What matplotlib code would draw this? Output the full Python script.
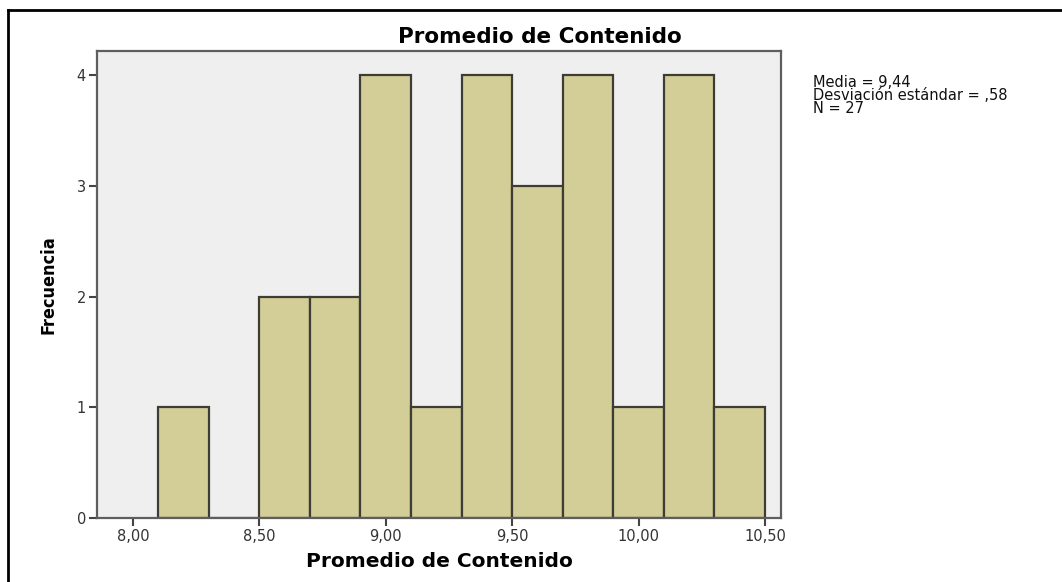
import numpy as np
import matplotlib
matplotlib.use("Agg")
import matplotlib.pyplot as plt
from matplotlib.lines import Line2D

# histogram data (bins of width 0,20)
bin_left = [8.1, 8.3, 8.5, 8.7, 8.9, 9.1, 9.3, 9.5, 9.7, 9.9, 10.1, 10.3]
counts = [1, 0, 2, 2, 4, 1, 4, 3, 4, 1, 4, 1]
bin_width = 0.2

x_ticks = [8.0, 8.5, 9.0, 9.5, 10.0, 10.5]
x_tick_labels = ["8,00", "8,50", "9,00", "9,50", "10,00", "10,50"]
y_ticks = [0, 1, 2, 3, 4]

title = "Promedio de Contenido"
stats_lines = ["Media = 9,44", "Desviación estándar = ,58", "N = 27"]

W, H = 1062, 582
fig = plt.figure(figsize=(W / 100, H / 100), dpi=100)
fig.patch.set_facecolor("white")

# axes placed in pixel terms
left, right, top, bottom = 97, 781, 51, 518
ax = fig.add_axes([left / W, 1 - bottom / H, (right - left) / W, (bottom - top) / H])
ax.set_facecolor("#efefef")

ax.bar(bin_left, counts, width=bin_width, align="edge",
       color="#d3ce97", edgecolor="#3d3d35", linewidth=1.6, zorder=2)

ax.set_xlim(7.858, 10.563)
ax.set_ylim(0, 4.217)
ax.set_xticks(x_ticks)
ax.set_xticklabels(x_tick_labels)
ax.set_yticks(y_ticks)
ax.tick_params(axis="both", direction="out", length=6, width=1.5,
               color="#444444", labelcolor="#333333", labelsize=10.5, pad=2)
for s in ax.spines.values():
    s.set_color("#5e5e5e")
    s.set_linewidth(1.6)
for lbl in ax.get_xticklabels() + ax.get_yticklabels():
    lbl.set_family("DejaVu Sans")

ax.set_xlabel(title, fontsize=14.5, fontweight="bold", family="DejaVu Sans", labelpad=6)
ax.set_ylabel("Frecuencia", fontsize=13, fontweight="bold", fontstretch="condensed",
              family="DejaVu Sans", labelpad=14)

fig.text(540 / W, 1 - 37 / H, title, ha="center", va="center",
         fontsize=15.5, fontweight="bold", family="DejaVu Sans")

# summary stats as one block of text
fig.text(813 / W, 1 - 75 / H, "\n".join(stats_lines), ha="left", va="top",
         fontsize=10.5, family="DejaVu Sans", color="#111111", linespacing=0.85)

# outer frame (left and top edges)
fig.add_artist(Line2D([8 / W, 8 / W], [0, 1 - 10 / H], color="black", linewidth=2,
                      transform=fig.transFigure))
fig.add_artist(Line2D([8 / W, 1], [1 - 10 / H, 1 - 10 / H], color="black", linewidth=2,
                      transform=fig.transFigure))

fig.savefig("out.png", dpi=100)
